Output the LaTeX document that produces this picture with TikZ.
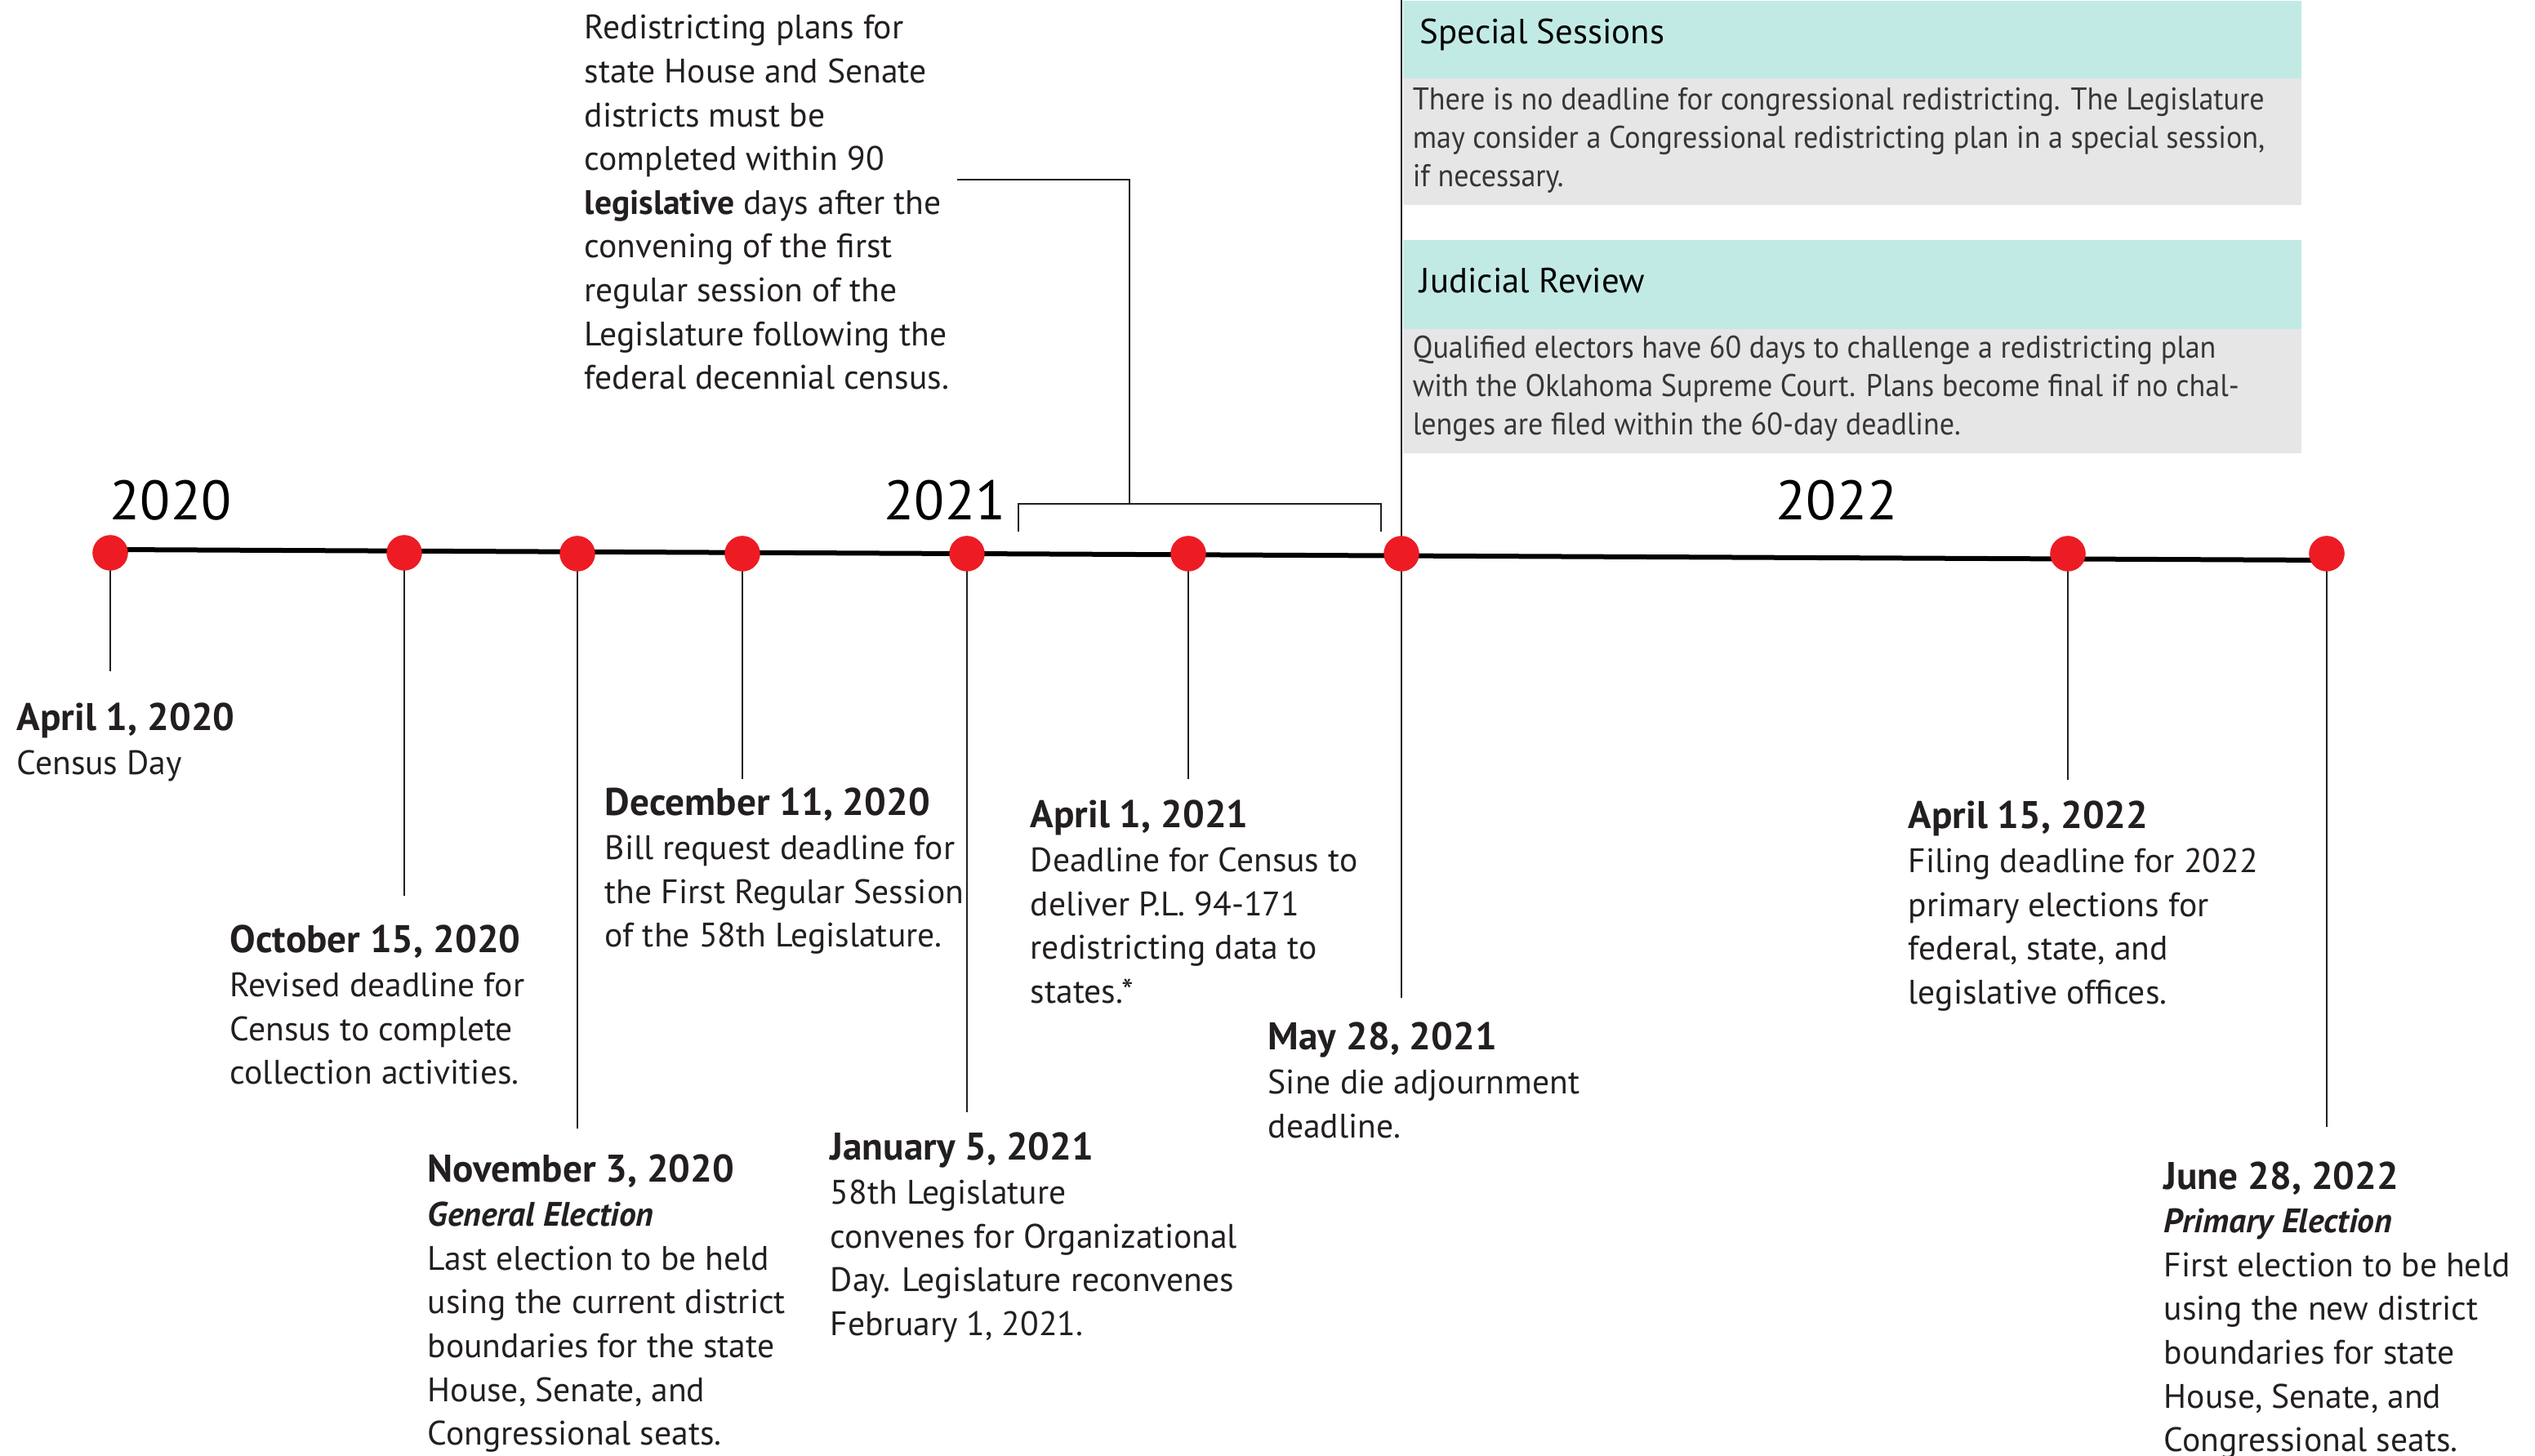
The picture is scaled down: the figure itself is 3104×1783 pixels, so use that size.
\documentclass[tikz,border=0pt]{standalone}
\usepackage{fontspec}
\setmainfont{PT Sans}
\newfontfamily\sidefont[FakeStretch=0.94]{PT Sans}
\definecolor{dotred}{HTML}{ED1C24}
\definecolor{teal}{HTML}{C2EAE5}
\definecolor{boxgrey}{HTML}{E6E6E6}
\definecolor{ink}{HTML}{231F20}
\tikzset{
  evdot/.style={circle,fill=dotred,draw=none,minimum size=10.8pt,inner sep=0},
  drop/.style={line width=0.7pt,draw=ink},
  mainline/.style={line width=1.5pt,draw=black},
  evtext/.style={font=\fontsize{10.4}{13.4}\selectfont,anchor=base west,inner sep=0,text=ink},
  sidetext/.style={font=\sidefont\fontsize{9.6}{11.7}\selectfont,anchor=base west,inner sep=0,text=ink!90},
  sidehead/.style={font=\fontsize{10.7}{13}\selectfont,anchor=base west,inner sep=0,text=black},
  yearlbl/.style={font=\fontsize{17}{20}\selectfont,anchor=base,inner sep=0,text=black},
  band/.style={anchor=north west,inner sep=0,draw=none}
}
\newcommand{\ttl}[1]{{\fontsize{11.8}{13.4}\selectfont\bfseries #1}}
\newcommand{\blk}[1]{\begin{tabular}[t]{@{}l@{}}#1\end{tabular}}
\begin{document}
\begin{tikzpicture}[x=0.25pt,y=-0.25pt]
\useasboundingbox (0,0) rectangle (3104,1783);
% side boxes
\node[band,fill=teal,minimum width=1100*0.25pt,minimum height=95*0.25pt] (sshead) at (1717,0) {};
\node[band,fill=boxgrey,minimum width=1100*0.25pt,minimum height=155*0.25pt] (ssbody) at (1717,95) {};
\node[band,fill=teal,minimum width=1100*0.25pt,minimum height=109*0.25pt] (jrhead) at (1717,293) {};
\node[band,fill=boxgrey,minimum width=1100*0.25pt,minimum height=152*0.25pt] (jrbody) at (1717,402) {};
\node[sidehead] (sst) at (1738,54) {Special Sessions};
\node[sidetext] (sstx) at (1729,135) {\blk{There is no deadline for congressional redistricting. The Legislature\\may consider a Congressional redistricting plan in a special session,\\if necessary.}};
\node[sidehead] (jrt) at (1738,359) {Judicial Review};
\node[sidetext] (jrtx) at (1729,439) {\blk{Qualified electors have 60 days to challenge a redistricting plan\\with the Oklahoma Supreme Court. Plans become final if no chal-\\lenges are filed within the 60-day deadline.}};
% vertical divider
\coordinate (vtop) at (1716,0);
\coordinate (e7) at (1716,1222);
% main line dots
\node[evdot] (d1) at (135,677) {};
\node[evdot] (d2) at (495,677) {};
\node[evdot] (d3) at (707,678) {};
\node[evdot] (d4) at (909,678) {};
\node[evdot] (d5) at (1184,678) {};
\node[evdot] (d6) at (1455,678) {};
\node[evdot] (d7) at (1716,678) {};
\node[evdot] (d8) at (2532,678) {};
\node[evdot] (d9) at (2849,678) {};
\coordinate (e1) at (135,822);
\coordinate (e2) at (495,1097);
\coordinate (e3) at (707,1382);
\coordinate (e4) at (909,954);
\coordinate (e5) at (1184,1362);
\coordinate (e6) at (1455,954);
\coordinate (e8) at (2532,955);
\coordinate (e9) at (2849,1380);
\draw[mainline] ([yshift=1pt]d1.center) -- ([yshift=-2pt]d9.center);
\draw[drop] (vtop) -- (e7);
\foreach \i in {1,2,3,4,5,6,8,9} {\draw[drop] (d\i.center) -- (e\i);}
% dots on top
\foreach \i in {1,...,9} {\fill[dotred] (d\i.center) circle (5.4pt);}
% years
\node[yearlbl] (y20) at (209,637) {2020};
\node[yearlbl] (y21) at (1157,637) {2021};
\node[yearlbl] (y22) at (2249,637) {2022};
% redistricting note + bracket
\node[evtext] (redis) at (715,48) {\blk{Redistricting plans for\\state House and Senate\\districts must be\\completed within 90\\\textbf{legislative} days after the\\convening of the first\\regular session of the\\Legislature following the\\federal decennial census.}};
\coordinate (bl0) at (1172,220);
\coordinate (bl1) at (1383,220);
\coordinate (bl2) at (1383,617);
\coordinate (bra) at (1247,651);
\coordinate (brb) at (1247,617);
\coordinate (brc) at (1691,617);
\coordinate (brd) at (1691,651);
\draw[drop] (bl0) -- (bl1) -- (bl2);
\draw[drop] (bra) -- (brb) -- (brc) -- (brd);
% events
\node[evtext] (t1) at (20,895) {\blk{\ttl{April 1, 2020}\\Census Day}};
\node[evtext] (t2) at (281,1167) {\blk{\ttl{October 15, 2020}\\Revised deadline for\\Census to complete\\collection activities.}};
\node[evtext] (t3) at (523,1448) {\blk{\ttl{November 3, 2020}\\{\bfseries\itshape General Election}\\Last election to be held\\using the current district\\boundaries for the state\\House, Senate, and\\Congressional seats.}};
\node[evtext] (t4) at (740,999) {\blk{\ttl{December 11, 2020}\\Bill request deadline for\\the First Regular Session\\of the 58th Legislature.}};
\node[evtext] (t5) at (1016,1421) {\blk{\ttl{January 5, 2021}\\58th Legislature\\convenes for Organizational\\Day. Legislature reconvenes\\February 1, 2021.}};
\node[evtext] (t6) at (1261,1014) {\blk{\ttl{April 1, 2021}\\Deadline for Census to\\deliver P.L. 94-171\\redistricting data to\\states.*}};
\node[evtext] (t7) at (1552,1286) {\blk{\ttl{May 28, 2021}\\Sine die adjournment\\deadline.}};
\node[evtext] (t8) at (2336,1015) {\blk{\ttl{April 15, 2022}\\Filing deadline for 2022\\primary elections for\\federal, state, and\\legislative offices.}};
\node[evtext] (t9) at (2649,1456) {\blk{\ttl{June 28, 2022}\\{\bfseries\itshape Primary Election}\\First election to be held\\using the new district\\boundaries for state\\House, Senate, and\\Congressional seats.}};
\end{tikzpicture}
\end{document}
